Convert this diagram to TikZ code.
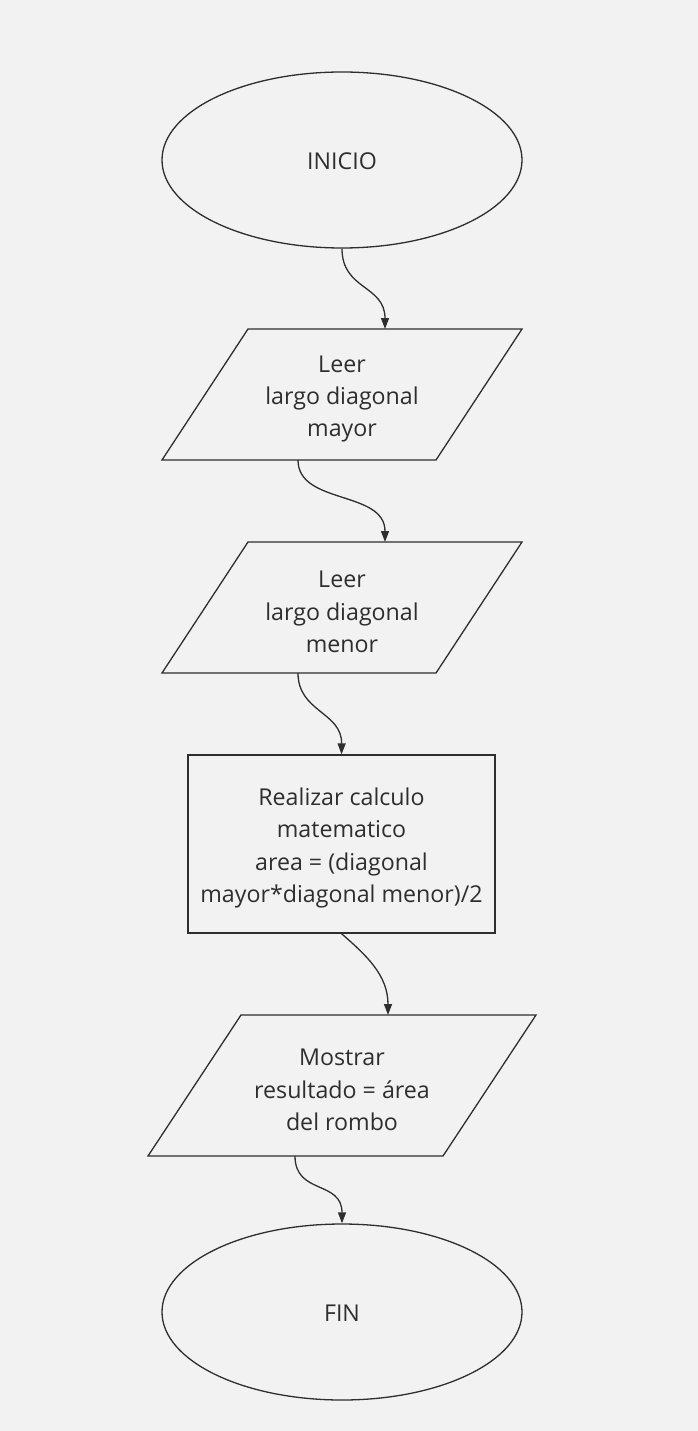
\documentclass[tikz,border=0pt]{standalone}
\usepackage{fontspec}
\setmainfont{Open Sans}
\usetikzlibrary{shapes.geometric,arrows.meta}
\definecolor{bg}{HTML}{F2F2F2}
\definecolor{ln}{HTML}{2E2E2E}
\tikzset{
  shapeline/.style={draw=ln, line width=1.3pt},
  txt/.style={align=center, text=ln, font=\fontsize{23.2}{32.3}\selectfont, inner sep=0pt},
  term/.style={shapeline, ellipse, minimum width=360pt, minimum height=176pt, inner sep=0pt, txt},
  procbox/.style={shapeline, rectangle, minimum width=307pt, minimum height=178pt, inner sep=0pt, txt},
  conn/.style={draw=ln, line width=1.3pt, -{Triangle[length=11pt,width=8pt]}},
}
\begin{document}
\begin{tikzpicture}[x=1pt,y=-1pt]
\fill[bg] (0,0) rectangle (698,1431);
\useasboundingbox (0,0) rectangle (698,1431);

% start
\node[term] (inicio) at (342,160) {};
\node[txt] (inicioT) at (342,161) {INICIO};

% input 1
\draw[shapeline] (248,329) -- (522,329) -- (436,460) -- (162,460) -- cycle;
\node[txt] (leer1) at (342,399) {Leer\\largo diagonal\\mayor};
\coordinate (p1top) at (385,329);
\coordinate (p1bot) at (298,460);

% input 2
\draw[shapeline] (248,542) -- (522,542) -- (436,673) -- (162,673) -- cycle;
\node[txt] (leer2) at (342,612) {Leer\\largo diagonal\\menor};
\coordinate (p2top) at (385,542);
\coordinate (p2bot) at (298,673);

% process
\node[procbox] (calc) at (341.5,844) {};
\node[txt] (calcT) at (341.5,848) {Realizar calculo\\matematico\\area = (diagonal\\mayor*diagonal menor)/2};

% output
\draw[shapeline] (241,1015) -- (536,1015) -- (443,1156) -- (148,1156) -- cycle;
\node[txt] (mostrar) at (342,1090) {Mostrar\\resultado = área\\del rombo};
\coordinate (p3top) at (388,1015);
\coordinate (p3bot) at (295,1156);

% end
\node[term] (fin) at (342,1312) {};
\node[txt] (finT) at (342,1313) {FIN};

% connectors
\draw[conn] (inicio.south) .. controls (342,290) and (385,285) .. (p1top);
\draw[conn] (p1bot) .. controls (298,505) and (385,490) .. (p2top);
\draw[conn] (p2bot) .. controls (298,712) and (342,712) .. (calc.north);
\draw[conn] (calc.south) .. controls (366,955) and (388,975) .. (p3top);
\draw[conn] (p3bot) .. controls (295,1195) and (342,1180) .. (fin.north);
\end{tikzpicture}
\end{document}
